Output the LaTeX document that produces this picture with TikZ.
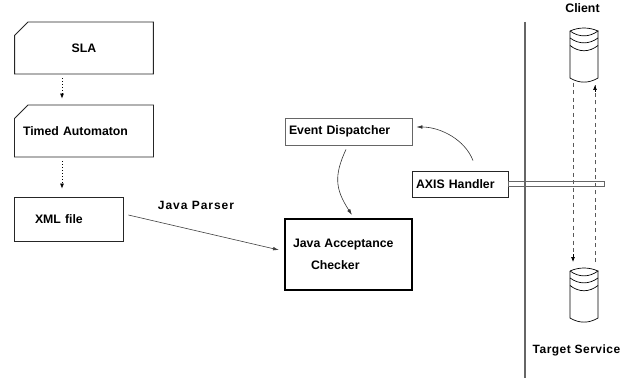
\documentclass[tikz,border=0pt]{standalone}
\usepackage{fontspec}
\setmainfont{Liberation Sans}
\newfontfamily\spacedfont[LetterSpace=8]{Liberation Sans}
\newfontfamily\tspacedfont[LetterSpace=4]{Liberation Sans}
\usetikzlibrary{arrows.meta,shapes.misc}
\tikzset{
  x=1pt,y=-1pt,
  lab/.style={font=\fontsize{12.3}{22}\selectfont\bfseries,inner sep=0pt},
  box/.style={lab,draw=black!85,line width=0.8pt,rectangle,minimum height=#1,align=left},
  box/.default=26pt,
  note/.style={box=52pt,chamfered rectangle,chamfered rectangle corners=north west,
    chamfered rectangle xsep=12pt,chamfered rectangle ysep=9pt,minimum width=130pt,inner sep=0pt},
  dotarrow/.style={dash pattern=on 1pt off 2pt,line width=0.7pt,-{Latex[length=5pt,width=4pt]}},
  dasharrow/.style={dash pattern=on 4pt off 3.5pt,draw=black!65,line width=0.9pt},
  tip/.style={-{Latex[length=6pt,width=3.6pt]},line width=0.6pt},
  cyl/.pic={
    \draw[line width=0.7pt] (-14,3) .. controls (-5,-1) and (5,-1) .. (14,3)
       .. controls (5,9.5) and (-5,9.5) .. (-14,3);
    \draw[line width=0.7pt] (-14,3) -- (-14,50) .. controls (-5,55.5) and (5,55.5) .. (14,50) -- (14,3);
    \draw[line width=0.7pt] (-14,10) .. controls (-5,16.5) and (5,16.5) .. (14,10);
    \draw[line width=0.7pt] (-14,17.5) .. controls (-5,24.5) and (5,24.5) .. (14,17.5);
    \coordinate (-top) at (0,0);
    \coordinate (-bot) at (0,55);
  }
}
\begin{document}
\begin{tikzpicture}
\useasboundingbox (0,0) rectangle (636,379);
\fill[white] (0,0) rectangle (636,379);

\node[note,text width=130pt,align=center] (sla) at (84,48) {SLA};
\node[note,text width=130pt] (tim) at (84,131) {\hspace*{4pt}Timed Automaton};
\node[box=44pt,minimum width=109pt,text width=109pt] (xml) at (68.5,219) {\hspace*{21pt}XML file};
\node[box=27pt,minimum width=127pt,text width=127pt,draw=black!60] (evt) at (348.5,131.5) {\hspace*{4pt}Event Dispatcher};
\node[box=71pt,minimum width=127pt,text width=127pt,line width=2pt,draw=black] (jac) at (348.5,254.5)
  {\hspace*{8pt}Java Acceptance\\ \hspace*{26pt}Checker};
\coordinate (railtop) at (525,22);
\coordinate (railbot) at (525,378);
\draw[draw=black!60,line width=1.1pt] (railtop) -- (railbot);

\pic (cl) at (584,28) {cyl};
\pic (tg) at (584,268) {cyl};

\draw[dasharrow] ([shift={(-11,0)}]cl-bot) -- ([shift={(-11,-6)}]tg-top);
\draw[-{Latex[length=5pt,width=4pt]},line width=0.7pt] ([shift={(-11,-14)}]tg-top) -- ([shift={(-11,-6)}]tg-top);
\draw[dasharrow] ([shift={(11,-6)}]tg-top) -- ([shift={(11,2)}]cl-bot);
\draw[-{Latex[length=5pt,width=4pt]},line width=0.7pt] ([shift={(11,9)}]cl-bot) -- ([shift={(11,2)}]cl-bot);

\node[box=26pt,minimum width=96pt,text width=96pt,fill=white] (axis) at (460,184) {\hspace*{4pt}AXIS Handler};
\node[draw=black!60,line width=0.8pt,rectangle,minimum width=96pt,minimum height=4.5pt,inner sep=0pt,anchor=west] (bar) at (axis.east) {};

\draw[dotarrow] ([shift={(-22,4)}]sla.south) -- ([shift={(-22,-6)}]tim.north);
\draw[dotarrow] ([shift={(-22,4)}]tim.south) -- ([shift={(-22,-8)}]xml.north -| tim.south);

\draw[tip,draw=black!75] ([shift={(5,-4)}]xml.east) -- ([shift={(-5,-4.5)}]jac.west);
\draw[tip,draw=black!80] ([shift={(13,-10)}]axis.north) .. controls +(-8,-21) and +(24,0) .. ([shift={(4,-4.5)}]evt.east);
\draw[tip,draw=black!80] ([shift={(-2.5,4)}]evt.south) .. controls +(-12,26) and +(-17,-26) .. ([shift={(3.5,-3)}]jac.north);

\node[lab,font=\fontsize{12}{12}\spacedfont\bfseries] (parser) at (196,205) {Java Parser};
\node[lab] (client) at (582.5,8) {Client};
\node[lab,font=\fontsize{12}{12}\tspacedfont\bfseries] (target) at (576.5,350) {Target Service};
\end{tikzpicture}
\end{document}
